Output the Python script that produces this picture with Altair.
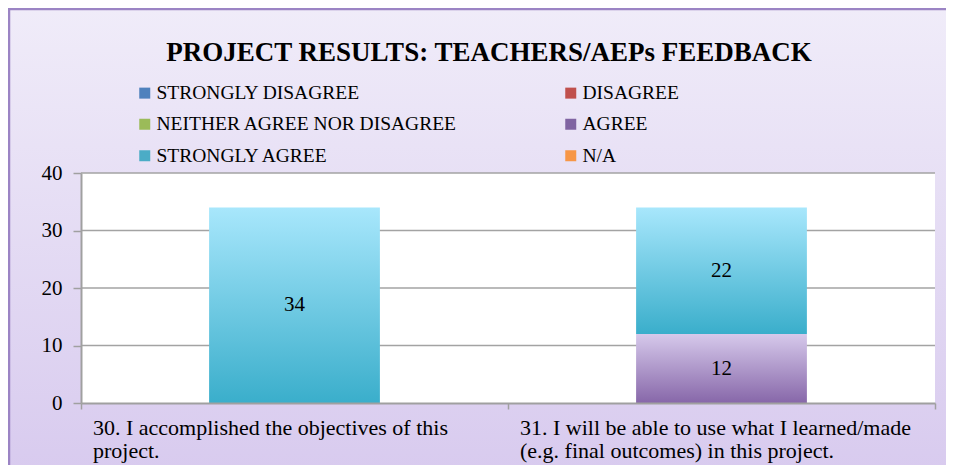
import altair as alt
import pandas as pd

questions = [
    "30. I accomplished the objectives of this\nproject.",
    "31. I will be able to use what I learned/made\n(e.g. final outcomes) in this project.",
]
series = ["STRONGLY DISAGREE", "DISAGREE", "NEITHER AGREE NOR DISAGREE",
          "AGREE", "STRONGLY AGREE", "N/A"]
q30_values = [0, 0, 0, 0, 34, 0]
q31_values = [0, 0, 0, 12, 22, 0]
y_ticks = [0, 10, 20, 30, 40]
grid_values = [10, 20, 30, 40]
title_text = "PROJECT RESULTS: TEACHERS/AEPs FEEDBACK"

legend_colors = ["#4f81bd", "#c0504d", "#9bbb59", "#8064a2", "#4bacc6", "#f79646"]
bar_gradients = {
    "AGREE": ("#d6c9eb", "#8767a9"),
    "STRONGLY AGREE": ("#a8e7fc", "#3aaecb"),
}

rows = []
for q, vals in zip(questions, [q30_values, q31_values]):
    for i, (s, v) in enumerate(zip(series, vals)):
        rows.append({"question": q, "series": s, "order": i, "value": v})
df = pd.DataFrame(rows)

W, H = 854, 230
FONT = "Liberation Serif"

base = alt.Chart(df).transform_stack(
    stack="value", groupby=["question"], as_=["y0", "y1"],
    sort=[alt.SortField("order", order="ascending")]
)

x_enc = alt.X("question:N", sort=questions, title=None,
              scale=alt.Scale(paddingInner=0, paddingOuter=0),
              axis=alt.Axis(tickBand="extent", tickSize=6, tickColor="#a0a0a0",
                            tickWidth=1.5, domainColor="#a0a0a0", domainWidth=2,
                            labelAngle=0,
                            labelAlign="left", labelOffset=-202, labelBaseline="top",
                            labelPadding=8, labelLineHeight=23, labelFont=FONT,
                            labelFontSize=22, labelColor="#000000", labelLimit=600,
                            labelOverlap=False, labelBound=False, labelFlush=False,
                            labelExpr="split(datum.label, '\\n')", zindex=1))
y_scale = alt.Scale(domain=[0, 40], nice=False)
y_enc = alt.Y("y0:Q", scale=y_scale, title=None,
              axis=alt.Axis(values=y_ticks, grid=False, tickSize=8, tickColor="#a0a0a0",
                            tickWidth=1.5, domainColor="#a0a0a0", domainWidth=2,
                            labelPadding=11, labelFont=FONT, labelFontSize=21,
                            labelColor="#000000", zindex=1))

bg = alt.Chart(pd.DataFrame({"a": [0]})).mark_rect(
    fill=alt.Gradient(gradient="linear", x1=0, x2=0, y1=0, y2=1,
                      stops=[alt.GradientStop(color="#f0ecf9", offset=0),
                             alt.GradientStop(color="#d7c9ee", offset=1)]),
    stroke="#9b84c4", strokeWidth=2.5
).encode(x=alt.value(-72), x2=alt.value(W + 40), y=alt.value(-164), y2=alt.value(H + 90))

plot_bg = alt.Chart(pd.DataFrame({"a": [0]})).mark_rect(fill="white").encode(
    x=alt.value(0), x2=alt.value(W), y=alt.value(0), y2=alt.value(H))

grid = alt.Chart(pd.DataFrame({"g": grid_values})).mark_rule(
    color="#a3a3a3", strokeWidth=1.5
).encode(y=alt.Y("g:Q", scale=y_scale), x=alt.value(0), x2=alt.value(W))

legend_layer = base.mark_bar(opacity=0, width=alt.RelativeBandSize(0.4)).encode(
    x=x_enc, y=y_enc, y2="y1:Q",
    color=alt.Color("series:N", sort=series,
                    scale=alt.Scale(domain=series, range=legend_colors),
                    legend=alt.Legend(title=None, orient="none", legendX=54, legendY=-90,
                                      direction="horizontal",
                                      columns=2, columnPadding=103, rowPadding=10.5,
                                      symbolType="square", symbolSize=121,
                                      symbolOpacity=1, symbolStrokeWidth=0,
                                      labelFont=FONT, labelFontSize=19.5,
                                      labelColor="#000000", labelOffset=2,
                                      labelLimit=400)))

bar_layers = []
for s, (top, bottom) in bar_gradients.items():
    bar_layers.append(
        base.transform_filter(alt.datum.series == s).mark_bar(
            width=alt.RelativeBandSize(0.4),
            fill=alt.Gradient(gradient="linear", x1=0, x2=0, y1=0, y2=1,
                              stops=[alt.GradientStop(color=top, offset=0),
                                     alt.GradientStop(color=bottom, offset=1)])
        ).encode(x=alt.X("question:N", sort=questions), y=alt.Y("y0:Q"), y2="y1:Q")
    )

labels = base.transform_filter(alt.datum.value > 0).transform_calculate(
    mid="(datum.y0 + datum.y1) / 2"
).mark_text(font=FONT, fontSize=21, color="#000000", baseline="middle").encode(
    x=alt.X("question:N", sort=questions), y=alt.Y("mid:Q"), text="value:Q")

chart = alt.layer(bg, plot_bg, grid, legend_layer, *bar_layers, labels).properties(
    width=W, height=H,
    title=alt.TitleParams(title_text, font=FONT, fontSize=27, fontWeight="bold",
                          color="#000000", anchor="middle", dx=-19, offset=-80,
                          baseline="alphabetic"),
    padding={"left": 73, "top": 165, "right": 11, "bottom": 62},
    autosize=alt.AutoSizeParams(type="none"),
).configure_view(stroke=None).configure(background="white").configure_legend(
    labelFont=FONT)

chart.save("out.html", embed_options={"renderer": "svg", "actions": False})
